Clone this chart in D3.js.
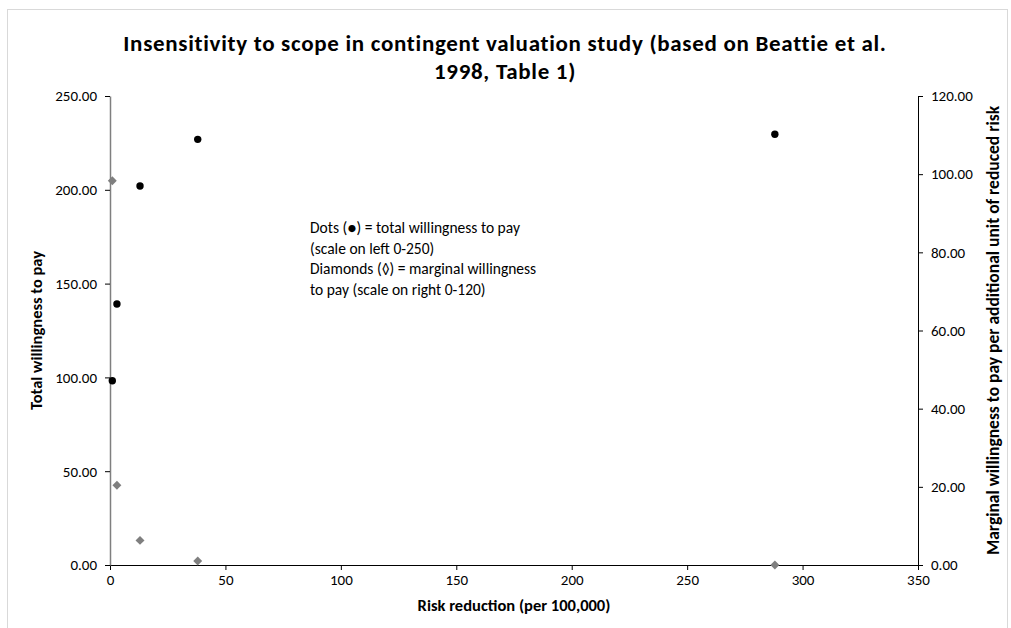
<!DOCTYPE html>
<html>
<head>
<meta charset="utf-8">
<script src="https://cdn.jsdelivr.net/npm/d3@7"></script>
<style>
  html, body { margin: 0; padding: 0; background: #fff; }
  svg { display: block; font-family: Carlito, Lato, "Open Sans", sans-serif; }
</style>
</head>
<body>
<svg id="chart" width="1011" height="628"></svg>
<script>
const titleLines = ["Insensitivity to scope in contingent valuation study (based on Beattie et al.", "1998, Table 1)"];
const riskReduction = [1, 3, 13, 38, 288];
const totalWTP = [98.2, 139.1, 202.0, 226.9, 229.6];
const marginalWTP = [98.3, 20.4, 6.3, 1.0, 0.01];
const xTicks = [0, 50, 100, 150, 200, 250, 300, 350];
const leftTicks = [0, 50, 100, 150, 200, 250];
const rightTicks = [0, 20, 40, 60, 80, 100, 120];
const noteLines = ["Dots (\u25CF) = total willingness to pay", "(scale on left 0-250)", "Diamonds (\u25CA) = marginal willingness", "to pay (scale on right 0-120)"];
const xTitle = "Risk reduction (per 100,000)";
const leftTitle = "Total willingness to pay";
const rightTitle = "Marginal willingness to pay per additional unit of reduced risk";

const svg = d3.select("#chart");
const m = {left: 110, right: 918, top: 96, bottom: 565};

svg.append("rect").attr("x", 7.5).attr("y", 9.5).attr("width", 1000).attr("height", 640)
  .attr("fill", "#fff").attr("stroke", "#d9d9d9");

const x = d3.scaleLinear().domain([0, 350]).range([m.left, m.right]);
const yL = d3.scaleLinear().domain([0, 250]).range([m.bottom, m.top]);
const yR = d3.scaleLinear().domain([0, 120]).range([m.bottom, m.top]);

// title
svg.append("g").selectAll("text").data(titleLines).join("text")
  .attr("x", 505).attr("y", (d, i) => 51 + i * 28)
  .attr("text-anchor", "middle").attr("font-weight", "bold").attr("font-size", 23)
  .attr("letter-spacing", 0.7)
  .attr("fill", "#000").text(d => d);

const fmt = d3.format(".2f");
const tickFont = 15;

function styleAxis(g) {
  g.attr("font-family", null).attr("font-size", null);
  g.selectAll("text").attr("font-size", tickFont).attr("fill", "#000");
  g.selectAll("line").attr("stroke", "#000");
}

// x axis
const gx = svg.append("g").attr("transform", `translate(0,${m.bottom})`)
  .call(d3.axisBottom(x).tickValues(xTicks).tickSize(5).tickPadding(4).tickSizeOuter(0));
styleAxis(gx);
gx.select(".domain").attr("stroke", "#000").attr("d", `M${m.left - 5},0.5H${m.right + 5}`);

// left axis
const gl = svg.append("g").attr("transform", `translate(${m.left},0)`)
  .call(d3.axisLeft(yL).tickValues(leftTicks).tickFormat(fmt).tickSize(5).tickPadding(8).tickSizeOuter(0));
styleAxis(gl);
gl.select(".domain").attr("stroke", "#7f7f7f").attr("stroke-width", 1.5);

// right axis
const gr = svg.append("g").attr("transform", `translate(${m.right},0)`)
  .call(d3.axisRight(yR).tickValues(rightTicks).tickFormat(fmt).tickSize(5).tickPadding(8).tickSizeOuter(0));
styleAxis(gr);
gr.select(".domain").attr("stroke", "#000").attr("d", `M0.5,${m.top}V${m.bottom + 5}`);

// axis titles
const axFont = 16.5;
svg.append("text").attr("x", x(175)).attr("y", 611).attr("text-anchor", "middle")
  .attr("font-weight", "bold").attr("font-size", axFont).text(xTitle);
svg.append("text").attr("transform", `translate(42,${(m.top + m.bottom) / 2}) rotate(-90)`)
  .attr("text-anchor", "middle").attr("font-weight", "bold").attr("font-size", axFont).text(leftTitle);
svg.append("text").attr("transform", `translate(999,${(m.top + m.bottom) / 2}) rotate(-90)`)
  .attr("text-anchor", "middle").attr("font-weight", "bold").attr("font-size", 17.5).text(rightTitle);

// note
svg.append("g").selectAll("text").data(noteLines).join("text")
  .attr("x", 310).attr("y", (d, i) => 233 + i * 20.5)
  .attr("font-size", 15.5).attr("fill", "#000").text(d => d);

const pts = riskReduction.map((r, i) => ({r, t: totalWTP[i], mw: marginalWTP[i]}));

// diamonds
svg.append("g").selectAll("path").data(pts).join("path")
  .attr("d", d3.symbol().type(d3.symbolSquare).size(40))
  .attr("transform", d => `translate(${x(d.r)},${yR(d.mw)}) rotate(45)`)
  .attr("fill", "#7f7f7f");

// dots
svg.append("g").selectAll("circle").data(pts).join("circle")
  .attr("cx", d => x(d.r)).attr("cy", d => yL(d.t)).attr("r", 3.7).attr("fill", "#000");
</script>
</body>
</html>
